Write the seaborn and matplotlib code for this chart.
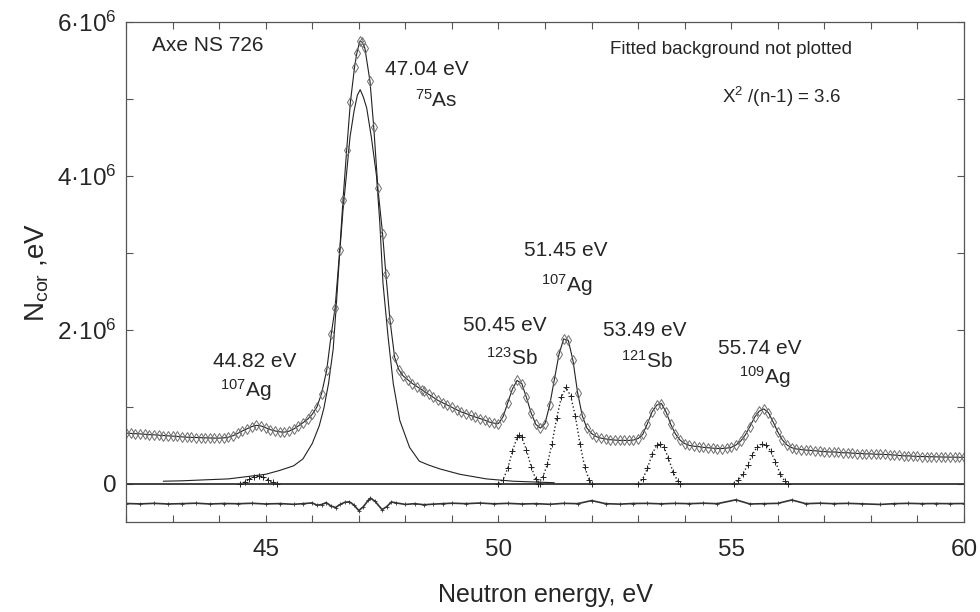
import matplotlib
matplotlib.use('Agg')
import matplotlib.pyplot as plt
from matplotlib.ticker import MultipleLocator
import seaborn as sns

# measured spectrum (energy in eV, counts in units of 1e6)
energy = [
    42.0, 42.1, 42.2, 42.3, 42.4, 42.5, 42.6, 42.7, 42.8, 42.9,
    43.0, 43.1, 43.2, 43.3, 43.4, 43.5, 43.6, 43.7, 43.8, 43.9,
    44.0, 44.1, 44.2, 44.3, 44.4, 44.5, 44.6, 44.7, 44.8, 44.9,
    45.0, 45.1, 45.2, 45.3, 45.4, 45.5, 45.6, 45.7, 45.8, 45.9,
    46.0, 46.1, 46.2,
    46.31, 46.41, 46.49, 46.59, 46.66, 46.74, 46.82, 46.91, 46.96, 47.02,
    47.07, 47.13, 47.24, 47.32, 47.41, 47.51, 47.58, 47.67, 47.77, 47.86,
    47.95, 48.05, 48.15, 48.25, 48.35,
    48.4, 48.5, 48.6, 48.7, 48.8, 48.9, 49.0, 49.1, 49.2, 49.3,
    49.4, 49.5, 49.6, 49.7, 49.8, 49.9, 50.0, 50.1, 50.2, 50.3,
    50.4, 50.5, 50.6, 50.7, 50.8, 50.9, 51.0, 51.1, 51.2, 51.3,
    51.4, 51.5, 51.6, 51.7, 51.8, 51.9, 52.0, 52.1, 52.2, 52.3,
    52.4, 52.5, 52.6, 52.7, 52.8, 52.9, 53.0, 53.1, 53.2, 53.3,
    53.4, 53.5, 53.6, 53.7, 53.8, 53.9, 54.0, 54.1, 54.2, 54.3,
    54.4, 54.5, 54.6, 54.7, 54.8, 54.9, 55.0, 55.1, 55.2, 55.3,
    55.4, 55.5, 55.6, 55.7, 55.8, 55.9, 56.0, 56.1, 56.2, 56.3,
    56.4, 56.5, 56.6, 56.7, 56.8, 56.9, 57.0, 57.1, 57.2, 57.3,
    57.4, 57.5, 57.6, 57.7, 57.8, 57.9, 58.0, 58.1, 58.2, 58.3,
    58.4, 58.5, 58.6, 58.7, 58.8, 58.9, 59.0, 59.1, 59.2, 59.3,
    59.4, 59.5, 59.6, 59.7, 59.8, 59.9, 60.0,
]
counts = [
    .655, .652, .648, .645, .640, .636, .633, .628, .624, .620,
    .616, .612, .606, .602, .600, .598, .596, .594, .592, .590,
    .590, .594, .602, .622, .652, .684, .712, .740, .756, .748,
    .725, .700, .684, .672, .668, .680, .708, .748, .790, .836,
    .900, .995, 1.17,
    1.47, 1.95, 2.28, 3.03, 3.68, 4.34, 4.96, 5.42, 5.60, 5.75,
    5.74, 5.66, 5.23, 4.64, 3.84, 3.25, 2.73, 2.12, 1.64, 1.48,
    1.40, 1.35, 1.30, 1.26, 1.22,
    1.20, 1.16, 1.12, 1.08, 1.05, 1.02, .99, .96, .93, .91,
    .885, .865, .845, .825, .80, .785, .78, .87, 1.05, 1.23,
    1.34, 1.30, 1.12, .92, .77, .72, .78, 1.02, 1.35, 1.68,
    1.88, 1.86, 1.60, 1.18, .88, .72, .65, .61, .59, .58,
    .57, .565, .56, .56, .56, .565, .585, .64, .78, .93,
    1.02, 1.04, .93, .77, .645, .565, .52, .495, .485, .48,
    .47, .465, .46, .455, .455, .46, .47, .50, .55, .63,
    .74, .86, .94, .97, .92, .80, .67, .565, .50, .465,
    .45, .44, .435, .43, .425, .42, .415, .41, .41, .405,
    .40, .40, .395, .39, .39, .385, .385, .38, .38, .378,
    .375, .37, .365, .36, .36, .355, .352, .35, .35, .348,
    .346, .345, .344, .343, .342, .341, .34,
]

# fitted 75As resonance (solid line)
as75_e = [42.8, 43.2, 43.7, 44.2, 44.6, 45.0, 45.3, 45.6, 45.8, 46.0,
          46.15, 46.25, 46.35, 46.45, 46.52, 46.59, 46.66, 46.74, 46.81, 46.9,
          46.97, 47.03, 47.1, 47.17, 47.27, 47.38, 47.45, 47.52, 47.63, 47.74,
          47.88, 48.09, 48.3, 48.5, 48.74, 49.17, 49.74, 50.31, 51.2]
as75_n = [0.03, 0.035, 0.048, 0.06, 0.09, 0.12, 0.17, 0.23, 0.32, 0.52,
          0.75, 0.98, 1.3, 1.75, 2.35, 3.0, 3.55, 4.05, 4.5, 4.85,
          5.05, 5.12, 5.02, 4.88, 4.5, 4.0, 3.4, 2.6, 1.9, 1.3,
          0.82, 0.47, 0.29, 0.24, 0.19, 0.12, 0.06, 0.03, 0.01]

# other fitted resonances (+ markers)
ag107a_e = [44.45, 44.55, 44.65, 44.75, 44.85, 44.95, 45.05, 45.15, 45.25]
ag107a_n = [0.0, 0.02, 0.055, 0.09, 0.10, 0.085, 0.05, 0.015, 0.0]
sb123_e = [50.0, 50.1, 50.2, 50.3, 50.4, 50.45, 50.5, 50.6, 50.7, 50.8, 50.9]
sb123_n = [0.0, 0.05, 0.2, 0.42, 0.6, 0.625, 0.6, 0.44, 0.22, 0.06, 0.0]
ag107b_e = [50.85, 50.95, 51.05, 51.15, 51.25, 51.35, 51.45, 51.55, 51.65, 51.75, 51.85, 51.95, 52.0]
ag107b_n = [0.0, 0.08, 0.25, 0.52, 0.85, 1.12, 1.25, 1.14, 0.88, 0.52, 0.22, 0.04, 0.0]
sb121_e = [53.0, 53.1, 53.2, 53.3, 53.4, 53.47, 53.55, 53.65, 53.75, 53.85, 53.9]
sb121_n = [0.0, 0.06, 0.2, 0.38, 0.5, 0.52, 0.48, 0.33, 0.15, 0.03, 0.0]
ag109_e = [55.05, 55.15, 55.25, 55.35, 55.45, 55.55, 55.65, 55.75, 55.85, 55.95, 56.05, 56.15, 56.22]
ag109_n = [0.0, 0.04, 0.12, 0.24, 0.37, 0.47, 0.51, 0.5, 0.42, 0.28, 0.13, 0.03, 0.0]

# residuals (shifted down)
resid_e = [42.0, 42.3, 42.6, 42.9, 43.2, 43.5, 43.8, 44.1, 44.4, 44.7,
           45.0, 45.3, 45.6, 45.8, 46.0, 46.1, 46.2, 46.3, 46.4, 46.5,
           46.6, 46.7, 46.8, 46.9, 47.0, 47.1, 47.2, 47.25, 47.35, 47.5,
           47.6, 47.7, 47.8, 48.0, 48.2, 48.4, 48.6, 48.8, 49.0, 49.3,
           49.6, 49.9, 50.2, 50.5, 50.8, 51.1, 51.4, 51.7, 52.0, 52.3,
           52.6, 52.9, 53.2, 53.5, 53.8, 54.1, 54.4, 54.7, 55.1, 55.4,
           55.7, 56.0, 56.3, 56.6, 56.9, 57.2, 57.5, 57.8, 58.2, 58.5,
           58.8, 59.1, 59.4, 59.7, 60.0]
resid_n = [-0.260, -0.265, -0.258, -0.266, -0.262, -0.256, -0.266, -0.260, -0.263, -0.257,
           -0.266, -0.261, -0.270, -0.262, -0.252, -0.282, -0.274, -0.248, -0.292, -0.312,
           -0.272, -0.244, -0.238, -0.282, -0.352, -0.300, -0.220, -0.190, -0.232, -0.340,
           -0.300, -0.240, -0.252, -0.272, -0.262, -0.276, -0.268, -0.262, -0.256, -0.262,
           -0.254, -0.264, -0.258, -0.266, -0.262, -0.270, -0.258, -0.262, -0.222, -0.262,
           -0.268, -0.260, -0.258, -0.264, -0.258, -0.262, -0.256, -0.262, -0.212, -0.266,
           -0.262, -0.258, -0.214, -0.262, -0.256, -0.262, -0.258, -0.264, -0.272, -0.262,
           -0.258, -0.262, -0.260, -0.262, -0.260]

ytick_vals = [0, 2, 4, 6]
ytick_labels = ['0', '2·10$^6$', '4·10$^6$', '6·10$^6$']
xtick_vals = [45, 50, 55, 60]

sns.set_style('ticks')
plt.rcParams['font.family'] = ['Liberation Sans', 'DejaVu Sans']
plt.rcParams['mathtext.fontset'] = 'custom'
plt.rcParams['mathtext.rm'] = 'Liberation Sans'
plt.rcParams['mathtext.it'] = 'Liberation Sans:italic'
plt.rcParams['mathtext.bf'] = 'Liberation Sans:bold'

fig = plt.figure(figsize=(9.8, 6.12), dpi=100)
ax = fig.add_axes([0.1286, 0.1471, 0.8551, 0.817])

# zero line of the components
ax.axhline(0, color='#333333', lw=1.3, zorder=1)

# residuals
sns.lineplot(x=resid_e, y=resid_n, ax=ax, estimator=None, color='#333333', lw=1.2,
             marker='+', markersize=3, markeredgecolor='#333333', markeredgewidth=0.6)

# component resonances
for ce, cn in [(ag107a_e, ag107a_n), (sb123_e, sb123_n), (ag107b_e, ag107b_n),
               (sb121_e, sb121_n), (ag109_e, ag109_n)]:
    sns.lineplot(x=ce, y=cn, ax=ax, estimator=None, color='#222222', lw=1.0, ls=':',
                 marker='+', markersize=4, markeredgecolor='#222222', markeredgewidth=0.7)

# As-75 component
sns.lineplot(x=as75_e, y=as75_n, ax=ax, estimator=None, color='#222222', lw=0.8)

# measured points with fit
sns.lineplot(x=energy, y=counts, ax=ax, estimator=None, color='#222222', lw=0.8,
             marker='d', markersize=5, markerfacecolor='none',
             markeredgecolor='#6e6e6e', markeredgewidth=0.7)

# annotations
fs = 15
ax.text(42.56, 5.70, 'Axe NS 726', fontsize=fs, va='center', ha='left')
ax.text(47.56, 5.38, '47.04 eV', fontsize=fs, va='center', ha='left')
ax.text(48.2, 4.99, '$^{75}$As', fontsize=fs, va='center', ha='left')
ax.text(52.39, 5.64, 'Fitted background not plotted', fontsize=13.5, va='center', ha='left')
ax.text(54.81, 5.03, 'X$^2$ /(n-1) = 3.6', fontsize=13.5, va='center', ha='left')

peak_labels = [
    (44.77, 1.58, '44.82 eV'), (44.58, 1.21, '$^{107}$Ag'),
    (50.13, 2.06, '50.45 eV'), (50.28, 1.64, '$^{123}$Sb'),
    (51.44, 3.03, '51.45 eV'), (51.46, 2.58, '$^{107}$Ag'),
    (53.14, 1.99, '53.49 eV'), (53.18, 1.60, '$^{121}$Sb'),
    (55.61, 1.76, '55.74 eV'), (55.71, 1.38, '$^{109}$Ag'),
]
for px, py, txt in peak_labels:
    ax.text(px, py, txt, fontsize=fs, va='center', ha='center')

ax.set_xlim(42, 60)
ax.set_ylim(-0.5, 6)
ax.set_xticks(xtick_vals)
ax.set_xticklabels([str(v) for v in xtick_vals])
ax.xaxis.set_minor_locator(MultipleLocator(1))
ax.set_yticks(ytick_vals)
ax.set_yticklabels(ytick_labels)
ax.yaxis.set_minor_locator(MultipleLocator(1))
ax.tick_params(which='both', direction='in', top=True, right=True,
               length=5, width=0.8, color='#555555')
ax.tick_params(axis='x', which='major', labelsize=17.5, pad=12)
ax.tick_params(axis='y', which='major', labelsize=17.5, pad=7)
for sp in ax.spines.values():
    sp.set_color('#555555')
    sp.set_linewidth(0.9)

ax.set_xlabel('Neutron energy, eV', fontsize=18, labelpad=16)
ax.set_ylabel(r'N$_{\mathrm{cor}}$ ,eV', fontsize=20, labelpad=4)

plt.savefig('out.png', dpi=100)
plt.close()
